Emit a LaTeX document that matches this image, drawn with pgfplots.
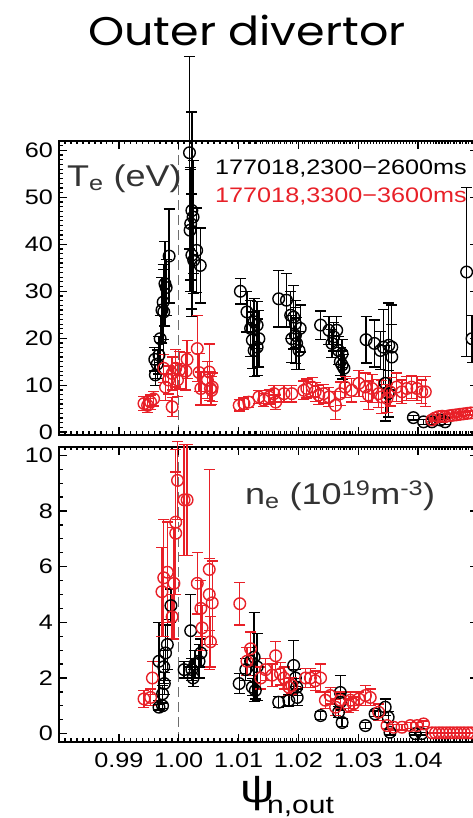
\documentclass[border=0pt]{standalone}
\usepackage{fontspec}
\setmainfont[FakeStretch=1.2]{Liberation Sans}
\newfontfamily\titlefont[FakeStretch=1.15]{Poppins}
\usepackage{pgfplots}
\pgfplotsset{compat=1.18}
\usepackage{pgfplotstable}
\definecolor{dred}{RGB}{232,32,40}
\definecolor{lab}{RGB}{51,51,51}
\definecolor{dashgray}{RGB}{110,110,110}

\pgfplotstableread{
x y e
0.9960 15.5 2.5
0.9961 12.2 2.2
0.9964 14.5 3.0
0.9967 16.4 4.0
0.9969 19.9 5.0
0.9972 26.0 7.0
0.9974 27.7 8.0
0.9975 25.6 9.0
0.9977 31.6 9.0
0.9979 30.8 6.0
0.9984 37.5 10.0
1.0018 59.5 20.5
1.0019 43.0 13.0
1.0020 44.4 12.0
1.0022 47.2 21.0
1.0024 45.8 12.0
1.0022 37.7 13.0
1.0025 36.6 7.0
1.0030 38.7 9.0
1.0036 35.5 8.0
1.0103 30.0 2.7
1.0114 25.6 4.3
1.0120 22.1 6.0
1.0126 23.5 5.0
1.0131 22.8 5.0
1.0123 19.6 6.0
1.0134 19.9 6.0
1.0126 17.4 5.5
1.0131 18.1 6.0
1.0167 28.4 6.0
1.0180 28.1 5.7
1.0187 24.9 5.0
1.0192 24.5 6.8
1.0189 19.9 5.0
1.0195 20.6 6.0
1.0203 22.1 5.0
1.0201 17.4 4.0
1.0197 18.9 5.5
1.0195 23.1 5.0
1.0237 22.8 3.0
1.0251 21.7 3.0
1.0264 21.7 3.0
1.0259 20.3 3.0
1.0256 18.9 3.0
1.0267 17.4 3.0
1.0273 16.7 3.0
1.0270 15.0 3.0
1.0276 13.6 3.0
1.0273 14.3 3.0
1.0313 19.7 5.0
1.0327 18.9 5.0
1.0337 17.4 4.0
1.0342 18.1 8.0
1.0351 18.5 9.0
1.0356 18.1 9.0
1.0356 16.0 7.0
1.0345 10.4 8.0
1.0350 8.2 5.0
1.0392 3.1 0.5
1.0409 2.2 0.5
1.0423 2.2 0.5
1.0437 2.6 0.5
1.0445 2.2 0.5
1.0481 34.1 18.0
1.0490 19.9 5.0
}\teblack

\pgfplotstableread{
x y e
0.9942 6.1 1.5
0.9948 5.7 1.5
0.9953 6.4 1.5
0.9958 7.1 1.5
0.9975 13.6 3.0
0.9978 9.6 2.8
0.9983 11.1 3.0
0.9989 5.4 2.0
0.9989 12.5 3.5
0.9995 13.6 4.0
0.9998 11.1 3.5
1.0001 13.2 4.0
1.0012 13.0 4.0
1.0014 15.5 4.0
1.0031 17.8 7.0
1.0034 12.7 4.0
1.0037 9.3 3.5
1.0048 11.1 4.0
1.0051 12.8 6.0
1.0053 9.3 3.5
1.0055 8.9 3.0
1.0056 9.6 3.0
1.0101 5.7 1.2
1.0109 6.1 1.2
1.0117 6.4 1.2
1.0134 7.5 1.4
1.0142 6.8 1.4
1.0151 7.5 1.5
1.0159 8.2 1.8
1.0162 6.4 1.5
1.0176 8.2 1.8
1.0189 8.2 1.8
1.0209 8.9 2.0
1.0214 9.3 2.0
1.0223 9.6 2.0
1.0228 8.6 2.0
1.0234 7.9 2.0
1.0242 8.2 2.0
1.0251 7.5 2.0
1.0262 5.7 3.0
1.0270 8.2 2.5
1.0278 9.6 2.2
1.0289 8.9 2.5
1.0301 10.4 2.8
1.0312 9.6 3.0
1.0317 7.9 3.0
1.0323 9.3 3.0
1.0334 8.2 3.0
1.0339 7.5 3.5
1.0348 7.2 3.0
1.0353 8.6 3.0
1.0364 9.6 3.0
1.0373 8.6 2.5
1.0381 9.3 2.5
1.0389 9.6 2.5
1.0398 9.3 2.5
1.0406 8.6 2.5
1.0412 8.6 3.2
1.0423 2.6 0.4
1.0428 3.0 0.4
1.0434 3.3 0.4
1.0440 3.4 0.4
1.0445 3.3 0.4
1.0452 3.5 0.4
1.0458 3.6 0.4
1.0464 3.7 0.4
1.0470 3.8 0.4
1.0476 3.9 0.4
1.0482 4.0 0.4
1.0488 4.1 0.4
}\tered

\pgfplotstableread{
x y e
0.9967 0.95 0.10
0.9973 1.00 0.10
0.9973 1.43 0.30
0.9976 1.80 0.40
0.9967 2.60 1.40
0.9975 2.40 0.60
0.9978 2.90 1.00
0.9981 3.20 0.90
0.9987 4.60 0.60
1.0009 2.30 0.30
1.0020 3.70 1.30
1.0024 2.00 0.30
1.0027 2.50 0.50
1.0034 2.60 0.60
1.0037 2.90 0.50
1.0022 2.30 0.40
1.0101 1.80 0.35
1.0112 2.30 0.40
1.0120 2.60 0.50
1.0126 2.75 1.60
1.0128 1.55 0.30
1.0123 1.67 0.30
1.0131 2.40 1.20
1.0167 1.13 0.20
1.0184 1.19 0.20
1.0192 2.45 0.90
1.0195 2.00 0.30
1.0198 1.30 0.30
1.0197 1.67 0.30
1.0237 0.65 0.15
1.0270 1.48 0.60
1.0267 0.77 0.20
1.0273 0.40 0.15
1.0270 1.13 0.30
1.0312 0.29 0.10
1.0328 0.71 0.10
1.0345 0.95 0.30
1.0350 0.59 0.20
1.0353 0.05 0.10
1.0395 0.00 0.05
1.0406 0.00 0.05
}\neblack

\pgfplotstableread{
x y e
0.9942 1.25 0.30
0.9953 1.30 0.30
0.9956 2.00 0.60
0.9972 5.10 1.60
0.9975 5.60 2.10
0.9981 5.80 1.80
0.9989 4.20 0.80
0.9992 5.40 2.00
0.9995 7.60 2.60
0.9995 7.20 2.20
0.9998 9.10 1.40
1.0009 8.40 2.00
1.0014 8.40 2.00
1.0031 5.40 1.10
1.0037 4.50 1.00
1.0039 3.80 0.80
1.0051 5.90 3.60
1.0051 5.00 1.30
1.0056 4.70 1.50
1.0053 3.30 0.90
1.0102 4.67 0.77
1.0120 3.05 0.60
1.0114 2.60 0.50
1.0137 2.00 0.40
1.0145 2.30 0.40
1.0162 2.80 0.50
1.0156 2.10 0.40
1.0170 2.15 0.40
1.0176 2.00 0.40
1.0184 1.67 0.30
1.0189 1.73 0.30
1.0212 2.00 0.35
1.0220 2.00 0.35
1.0228 1.90 0.35
1.0237 2.00 0.50
1.0245 1.20 0.30
1.0253 1.37 0.30
1.0270 1.20 0.30
1.0262 0.95 0.30
1.0287 1.20 0.30
1.0284 1.00 0.25
1.0292 1.07 0.25
1.0301 1.25 0.25
1.0312 1.37 0.35
1.0320 1.30 0.30
1.0334 0.77 0.30
1.0348 0.29 0.10
1.0359 0.23 0.10
1.0373 0.23 0.10
1.0387 0.29 0.10
1.0398 0.29 0.10
1.0409 0.35 0.10
1.0423 0.03 0.02
1.0429 0.03 0.02
1.0435 0.03 0.02
1.0441 0.03 0.02
1.0447 0.03 0.02
1.0453 0.03 0.02
1.0459 0.03 0.02
1.0465 0.03 0.02
1.0471 0.03 0.02
1.0477 0.03 0.02
1.0483 0.03 0.02
1.0489 0.03 0.02
}\nered

\pgfplotsset{
  panel/.style={
    scale only axis, width=419pt,
    xmin=0.98, xmax=1.05,
    xtick={0.98,0.99,1.00,1.01,1.02,1.03,1.04,1.05},
    minor x tick num=9,
    tick align=inside,
    axis line style={line width=1.8pt},
    tick style={draw=black, line width=1.2pt},
    major tick length=8pt, minor tick length=3.5pt,
    clip=false,
    /pgf/number format/assume math mode=true,
    tick label style={font=\fontsize{21}{21}\selectfont},
    yticklabel style={inner sep=0pt, xshift=-6pt},
    xticklabel style={inner sep=0pt, yshift=-11pt},
  },
  blk/.style={black, only marks, mark=o, mark size=5.8pt,
    mark options={line width=1.4pt},
    error bars/.cd, y dir=both, y explicit,
    error bar style={line width=1.3pt, black},
    error mark options={rotate=90, line width=1.3pt, mark size=5.5pt, black}},
  rdd/.style={dred, only marks, mark=o, mark size=5.8pt,
    mark options={line width=1.4pt},
    error bars/.cd, y dir=both, y explicit,
    error bar style={line width=1.3pt, dred},
    error mark options={rotate=90, line width=1.3pt, mark size=5.5pt, dred}},
  dsh/.style={color=dashgray, line width=1.4pt, dash pattern=on 10pt off 5pt, no marks},
}
\tikzset{tk/.style={draw=black, line width=1.1pt}, tkM/.style={draw=black, line width=1.4pt}}

\begin{document}
\begin{tikzpicture}
% top panel: Te
\begin{axis}[panel, at={(59pt,383pt)}, anchor=south west, height=294pt,
  ymin=-0.6, ymax=62, ytick={0,10,20,30,40,50,60}, minor y tick num=9,
  xticklabels={,,,,,,,}]
  \addplot[dsh] coordinates {(1.00,-0.6) (1.00,62)};
  \pgfplotsinvokeforeach{0.981,0.982,...,1.0495}{
    \draw[tk] (axis cs:#1,-0.6) -- ++(0pt,3.5pt);
    \draw[tk] (axis cs:#1,62) -- ++(0pt,-3.5pt);
  }
  \pgfplotsinvokeforeach{0.99,1.00,1.01,1.02,1.03,1.04}{
    \draw[tkM] (axis cs:#1,-0.6) -- ++(0pt,8pt);
    \draw[tkM] (axis cs:#1,62) -- ++(0pt,-8pt);
  }
  \pgfplotsinvokeforeach{0,...,61}{
    \draw[tk] (axis cs:0.98,#1) -- ++(3.5pt,0pt);
    \draw[tk] (axis cs:1.05,#1) -- ++(-3.5pt,0pt);
  }
  \pgfplotsinvokeforeach{0,10,20,30,40,50,60}{
    \draw[tkM] (axis cs:0.98,#1) -- ++(8pt,0pt);
    \draw[tkM] (axis cs:1.05,#1) -- ++(-8pt,0pt);
  }
  \addplot[blk] table[x=x, y=y, y error=e] {\teblack};
  \addplot[rdd] table[x=x, y=y, y error=e] {\tered};
\end{axis}
% bottom panel: ne
\begin{axis}[panel, at={(59pt,76pt)}, anchor=south west, height=295pt,
  ymin=-0.3, ymax=10.3, ytick={0,2,4,6,8,10}, minor y tick num=3,
  xticklabels={,0.99,1.00,1.01,1.02,1.03,1.04,}]
  \addplot[dsh] coordinates {(1.00,-0.3) (1.00,10.3)};
  \pgfplotsinvokeforeach{0.981,0.982,...,1.0495}{
    \draw[tk] (axis cs:#1,-0.3) -- ++(0pt,3.5pt);
    \draw[tk] (axis cs:#1,10.3) -- ++(0pt,-3.5pt);
  }
  \pgfplotsinvokeforeach{0.99,1.00,1.01,1.02,1.03,1.04}{
    \draw[tkM] (axis cs:#1,-0.3) -- ++(0pt,8pt);
    \draw[tkM] (axis cs:#1,10.3) -- ++(0pt,-8pt);
  }
  \pgfplotsinvokeforeach{0,0.5,...,10.2}{
    \draw[tk] (axis cs:0.98,#1) -- ++(3.5pt,0pt);
    \draw[tk] (axis cs:1.05,#1) -- ++(-3.5pt,0pt);
  }
  \pgfplotsinvokeforeach{0,2,4,6,8,10}{
    \draw[tkM] (axis cs:0.98,#1) -- ++(8pt,0pt);
    \draw[tkM] (axis cs:1.05,#1) -- ++(-8pt,0pt);
  }
  \addplot[blk] table[x=x, y=y, y error=e] {\neblack};
  \addplot[rdd] table[x=x, y=y, y error=e] {\nered};
\end{axis}
% texts
\node[anchor=base, inner sep=0pt, font=\titlefont\fontsize{40}{40}\selectfont] at (247pt,772pt) {Outer divertor};
\node[anchor=base west, inner sep=0pt, text=lab, font=\fontsize{30}{30}\selectfont] at (67pt,631pt) {T\textsubscript{e} (eV)};
\node[anchor=base west, inner sep=0pt, text=black, font=\fontsize{21}{21}\selectfont] at (215pt,643pt) {177018,2300\textminus2600ms};
\node[anchor=base west, inner sep=0pt, text=dred, font=\fontsize{21}{21}\selectfont] at (215pt,615pt) {177018,3300\textminus3600ms};
\node[anchor=base west, inner sep=0pt, text=lab, font=\fontsize{30}{30}\selectfont] at (245pt,313pt) {n\textsubscript{e} (10\textsuperscript{19}m\textsuperscript{-3})};
\node[anchor=base west, inner sep=0pt, font=\fontsize{40}{40}\selectfont] at (240pt,16pt) {ψ};
\node[anchor=base west, inner sep=0pt, font=\fontsize{25}{25}\selectfont] at (267pt,5pt) {n,out};
\pgfresetboundingbox
\path[use as bounding box] (0pt,0pt) rectangle (473pt,818pt);
\end{tikzpicture}
\end{document}
